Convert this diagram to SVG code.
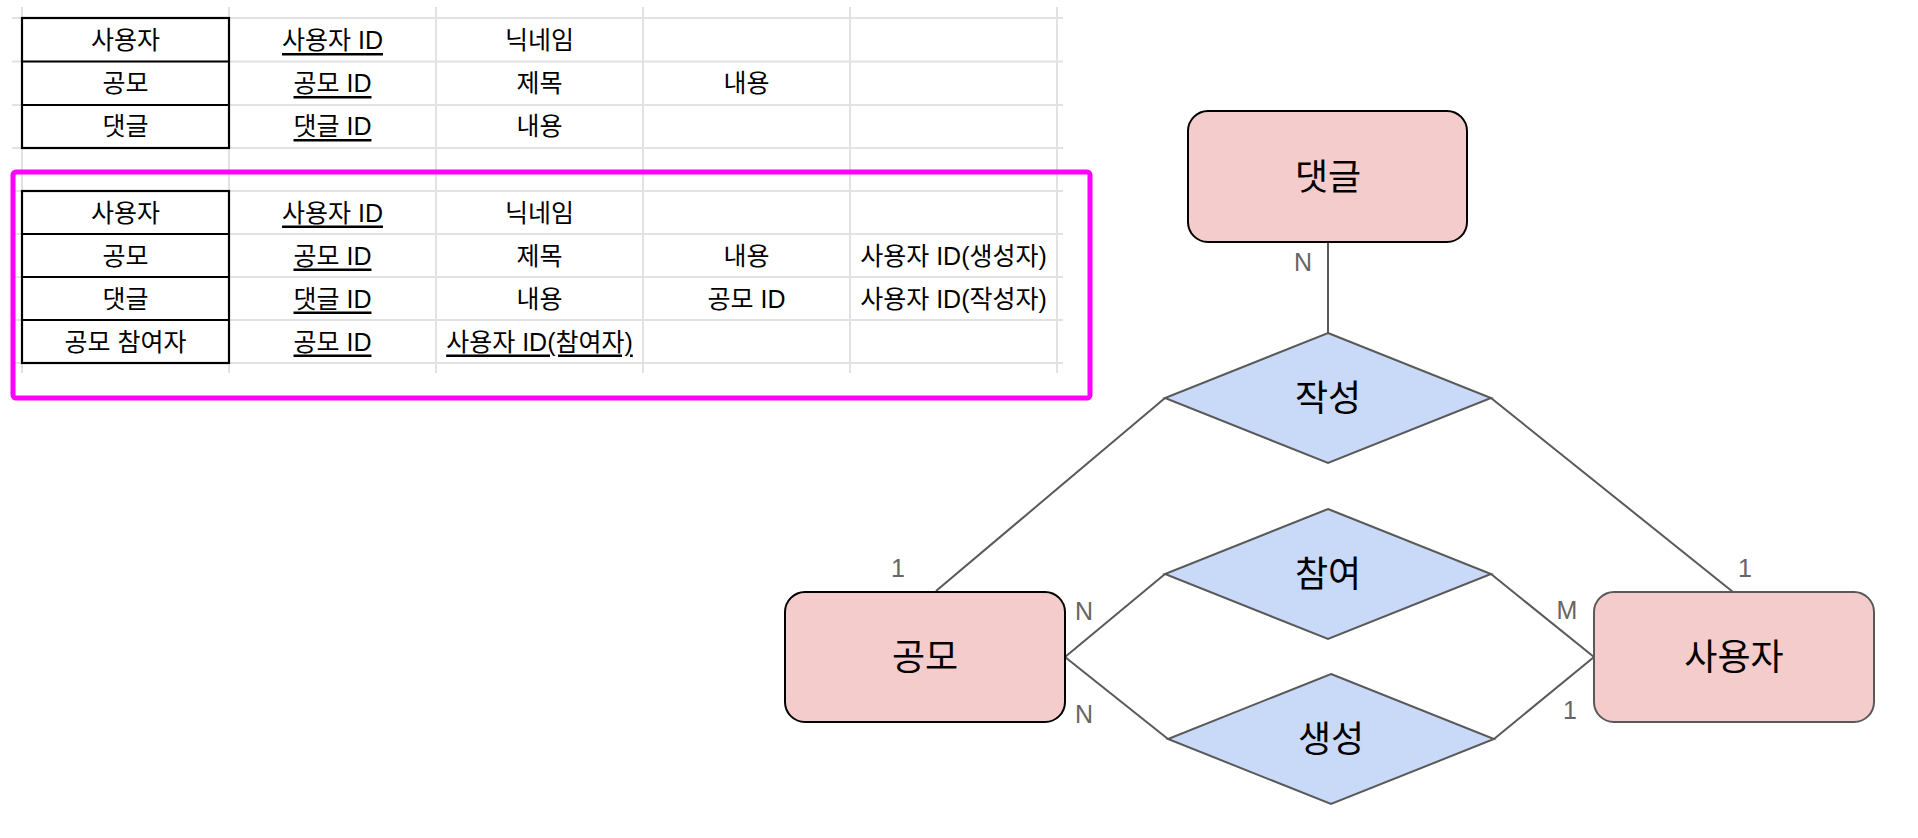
<svg xmlns="http://www.w3.org/2000/svg" width="1918" height="838" viewBox="0 0 1918 838">
<style>
.grid line{stroke:#e2e2e2;stroke-width:2}
.tb{fill:none;stroke:#000;stroke-width:2.2}
.t{font-family:"Liberation Sans","Noto Sans CJK KR",sans-serif;font-size:25px;fill:#000;text-anchor:middle;dominant-baseline:central}
.u{text-decoration:underline}
.ent{fill:#f4cccc;stroke:#000;stroke-width:2}
.rel{fill:#c9daf8;stroke:#595959;stroke-width:2}
.lbl{font-family:"Liberation Sans","Noto Sans CJK KR",sans-serif;font-size:36px;fill:#000;text-anchor:middle;dominant-baseline:central}
.card{font-family:"Liberation Sans","Noto Sans CJK KR",sans-serif;font-size:25px;fill:#666;text-anchor:middle;dominant-baseline:central}
.conn line{stroke:#595959;stroke-width:2}
</style>
<rect width="1918" height="838" fill="#fff"/>
<g id="sheet-grid" class="grid">
<line x1="12" y1="18" x2="1063" y2="18"/>
<line x1="12" y1="61.5" x2="1063" y2="61.5"/>
<line x1="12" y1="105" x2="1063" y2="105"/>
<line x1="12" y1="148" x2="1063" y2="148"/>
<line x1="12" y1="191" x2="1063" y2="191"/>
<line x1="12" y1="234" x2="1063" y2="234"/>
<line x1="12" y1="277" x2="1063" y2="277"/>
<line x1="12" y1="320" x2="1063" y2="320"/>
<line x1="12" y1="363" x2="1063" y2="363"/>
<line x1="22" y1="7" x2="22" y2="373"/>
<line x1="229" y1="7" x2="229" y2="373"/>
<line x1="436" y1="7" x2="436" y2="373"/>
<line x1="643" y1="7" x2="643" y2="373"/>
<line x1="850" y1="7" x2="850" y2="373"/>
<line x1="1057" y1="7" x2="1057" y2="373"/>
</g>
<g id="table1">
<rect class="tb" x="22" y="18" width="207" height="130"/>
<line class="tb" x1="22" y1="61.5" x2="229" y2="61.5"/>
<line class="tb" x1="22" y1="105" x2="229" y2="105"/>
<text class="t" x="125.5" y="40">사용자</text>
<text class="t u" x="332.5" y="40">사용자 ID</text>
<text class="t" x="539.5" y="40">닉네임</text>
<text class="t" x="125.5" y="83">공모</text>
<text class="t u" x="332.5" y="83">공모 ID</text>
<text class="t" x="539.5" y="83">제목</text>
<text class="t" x="746.5" y="83">내용</text>
<text class="t" x="125.5" y="126">댓글</text>
<text class="t u" x="332.5" y="126">댓글 ID</text>
<text class="t" x="539.5" y="126">내용</text>
</g>
<g id="table2">
<rect class="tb" x="22" y="191" width="207" height="172"/>
<line class="tb" x1="22" y1="234" x2="229" y2="234"/>
<line class="tb" x1="22" y1="277" x2="229" y2="277"/>
<line class="tb" x1="22" y1="320" x2="229" y2="320"/>
<text class="t" x="125.5" y="212.5">사용자</text>
<text class="t u" x="332.5" y="212.5">사용자 ID</text>
<text class="t" x="539.5" y="212.5">닉네임</text>
<text class="t" x="125.5" y="255.5">공모</text>
<text class="t u" x="332.5" y="255.5">공모 ID</text>
<text class="t" x="539.5" y="255.5">제목</text>
<text class="t" x="746.5" y="255.5">내용</text>
<text class="t" x="953.5" y="255.5">사용자 ID(생성자)</text>
<text class="t" x="125.5" y="298.5">댓글</text>
<text class="t u" x="332.5" y="298.5">댓글 ID</text>
<text class="t" x="539.5" y="298.5">내용</text>
<text class="t" x="746.5" y="298.5">공모 ID</text>
<text class="t" x="953.5" y="298.5">사용자 ID(작성자)</text>
<text class="t" x="125.5" y="341.5">공모 참여자</text>
<text class="t u" x="332.5" y="341.5">공모 ID</text>
<text class="t u" x="539.5" y="341.5">사용자 ID(참여자)</text>
</g>
<g id="highlight">
<rect x="13" y="172" width="1077" height="226" rx="3" fill="none" stroke="#ff00ff" stroke-width="5"/>
</g>
<g id="connectors" class="conn">
<line x1="1328" y1="242" x2="1328" y2="333"/>
<line x1="1165" y1="398" x2="936" y2="591"/>
<line x1="1491" y1="398" x2="1733" y2="592"/>
<line x1="1065" y1="657" x2="1165" y2="574"/>
<line x1="1065" y1="657" x2="1168" y2="739"/>
<line x1="1491" y1="574" x2="1594" y2="657"/>
<line x1="1494" y1="739" x2="1594" y2="657"/>
</g>
<g id="cardinalities">
<text class="card" x="1303" y="262">N</text>
<text class="card" x="898" y="568">1</text>
<text class="card" x="1084" y="611">N</text>
<text class="card" x="1084" y="714">N</text>
<text class="card" x="1745" y="568">1</text>
<text class="card" x="1567" y="610">M</text>
<text class="card" x="1570" y="710">1</text>
</g>
<g id="entity-comment">
<rect class="ent" x="1188" y="111" width="279" height="131" rx="20"/>
<text class="lbl" x="1328" y="177">댓글</text>
</g>
<g id="entity-recruit">
<rect class="ent" x="785" y="592" width="280" height="130" rx="20"/>
<text class="lbl" x="925" y="657">공모</text>
</g>
<g id="entity-user">
<rect class="ent" x="1594" y="592" width="280" height="130" rx="20" style="stroke:#595959"/>
<text class="lbl" x="1734" y="657">사용자</text>
</g>
<g id="rel-write">
<polygon class="rel" points="1328,333 1491,398 1328,463 1165,398"/>
<text class="lbl" x="1328" y="398">작성</text>
</g>
<g id="rel-join">
<polygon class="rel" points="1328,509 1491,574 1328,639 1165,574"/>
<text class="lbl" x="1328" y="574">참여</text>
</g>
<g id="rel-create">
<polygon class="rel" points="1331,674 1494,739 1331,804 1168,739"/>
<text class="lbl" x="1331" y="739">생성</text>
</g>
</svg>
